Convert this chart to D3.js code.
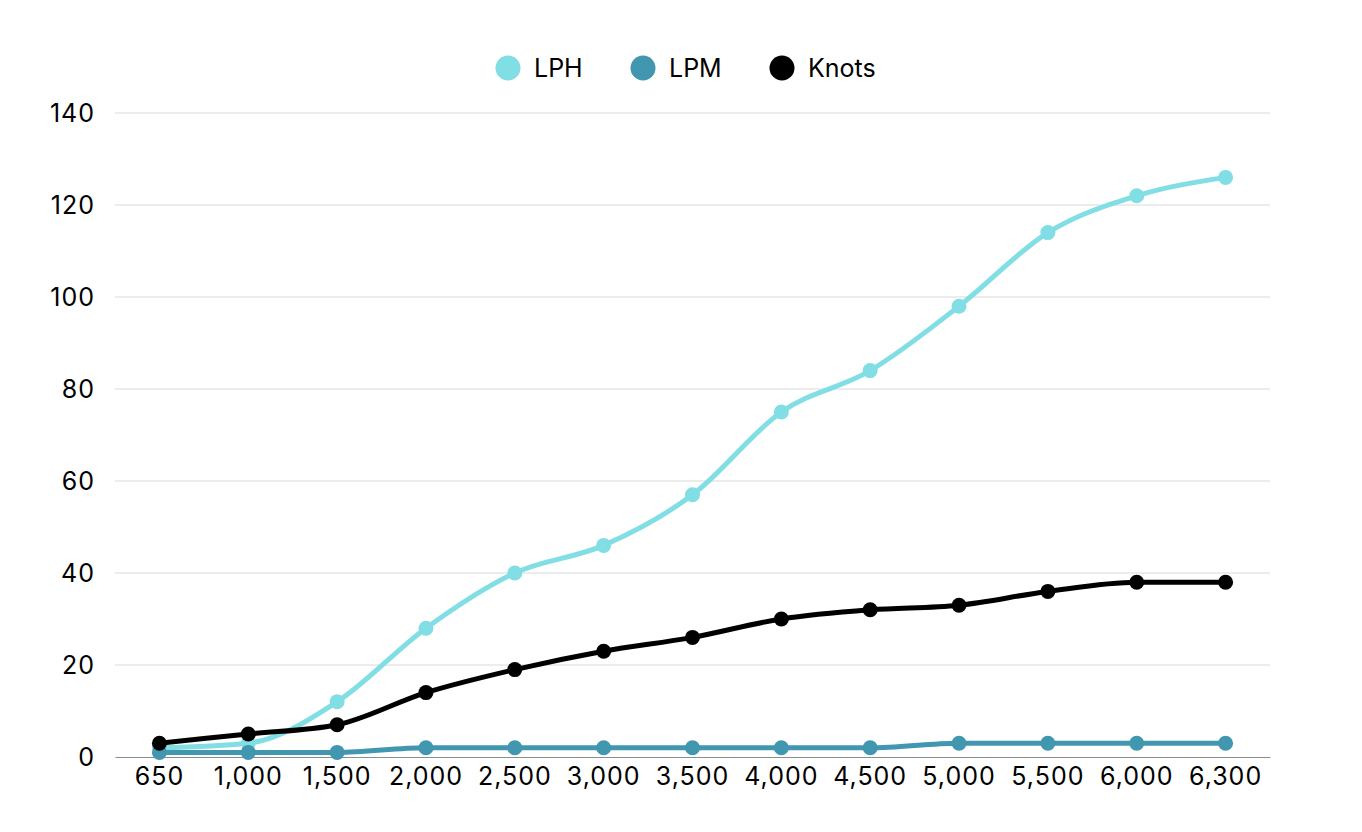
<!DOCTYPE html>
<html>
<head>
<meta charset="utf-8">
<script src="https://cdn.jsdelivr.net/npm/d3@7"></script>
<style>
  body { margin: 0; background: #fff; }
  text { font-family: Inter, "Noto Sans", sans-serif; }
</style>
</head>
<body>
<div id="chart"></div>
<script>
const categories = ["650", "1,000", "1,500", "2,000", "2,500", "3,000", "3,500", "4,000", "4,500", "5,000", "5,500", "6,000", "6,300"];
const lph = [2, 3, 12, 28, 40, 46, 57, 75, 84, 98, 114, 122, 126];
const lpm = [1, 1, 1, 2, 2, 2, 2, 2, 2, 3, 3, 3, 3];
const knots = [3, 5, 7, 14, 19, 23, 26, 30, 32, 33, 36, 38, 38];
const yTicks = [0, 20, 40, 60, 80, 100, 120, 140];

const series = [
    { name: "LPH", values: lph, color: "#80dee4" },
    { name: "LPM", values: lpm, color: "#4196b0" },
    { name: "Knots", values: knots, color: "#000000" }
];

const W = 1362, H = 832;
const margin = { top: 113, right: 92, bottom: 75, left: 115 },
      width = W - margin.left - margin.right,
      height = H - margin.top - margin.bottom;

const root = d3.select("#chart")
    .append("svg")
    .attr("width", W)
    .attr("height", H);

const svg = root.append("g")
    .attr("transform", `translate(${margin.left},${margin.top})`);

const x = d3.scaleBand()
    .domain(categories)
    .range([0, width]);

const y = d3.scaleLinear()
    .domain([0, 140])
    .range([height, 0]);

// gridlines
svg.append("g")
    .selectAll("line")
    .data(yTicks.filter(d => d > 0))
    .join("line")
    .attr("x1", 0)
    .attr("x2", width)
    .attr("y1", d => y(d))
    .attr("y2", d => y(d))
    .attr("stroke", "#d9d9d9")
    .attr("stroke-width", 1);

// y axis labels
const yAxis = svg.append("g")
    .call(d3.axisLeft(y).tickValues(yTicks).tickSize(0).tickPadding(20));
yAxis.select(".domain").remove();
yAxis.selectAll("text")
    .style("font-size", "25px")
    .style("letter-spacing", "1px")
    .style("font-family", "Inter, 'Noto Sans', sans-serif")
    .attr("fill", "#000");

// x axis
const xAxis = svg.append("g")
    .attr("transform", `translate(0,${height})`)
    .call(d3.axisBottom(x).tickSize(0).tickPadding(10));
xAxis.select(".domain").attr("stroke", "#8c8c8c").attr("stroke-width", 1.2);
xAxis.selectAll("text")
    .style("font-size", "25px")
    .style("letter-spacing", "1px")
    .style("font-family", "Inter, 'Noto Sans', sans-serif")
    .attr("fill", "#000");

const cx = d => x(d) + x.bandwidth() / 2;

const line = d3.line()
    .x((d, i) => cx(categories[i]))
    .y(d => y(d))
    .curve(d3.curveMonotoneX);

series.forEach(s => {
    const g = svg.append("g");
    g.append("path")
        .datum(s.values)
        .attr("fill", "none")
        .attr("stroke", s.color)
        .attr("stroke-width", 5)
        .attr("stroke-linejoin", "round")
        .attr("d", line);
    g.selectAll("circle")
        .data(s.values)
        .join("circle")
        .attr("cx", (d, i) => cx(categories[i]))
        .attr("cy", d => y(d))
        .attr("r", 7.5)
        .attr("fill", s.color);
});

// legend
const legendX = [508, 643, 782];
const legend = root.append("g");
series.forEach((s, i) => {
    legend.append("circle")
        .attr("cx", legendX[i])
        .attr("cy", 68)
        .attr("r", 12.5)
        .attr("fill", s.color);
    legend.append("text")
        .attr("x", legendX[i] + 26)
        .attr("y", 68)
        .attr("dy", "0.35em")
        .style("font-size", "25px")
        .attr("fill", "#000")
        .text(s.name);
});
</script>
</body>
</html>
